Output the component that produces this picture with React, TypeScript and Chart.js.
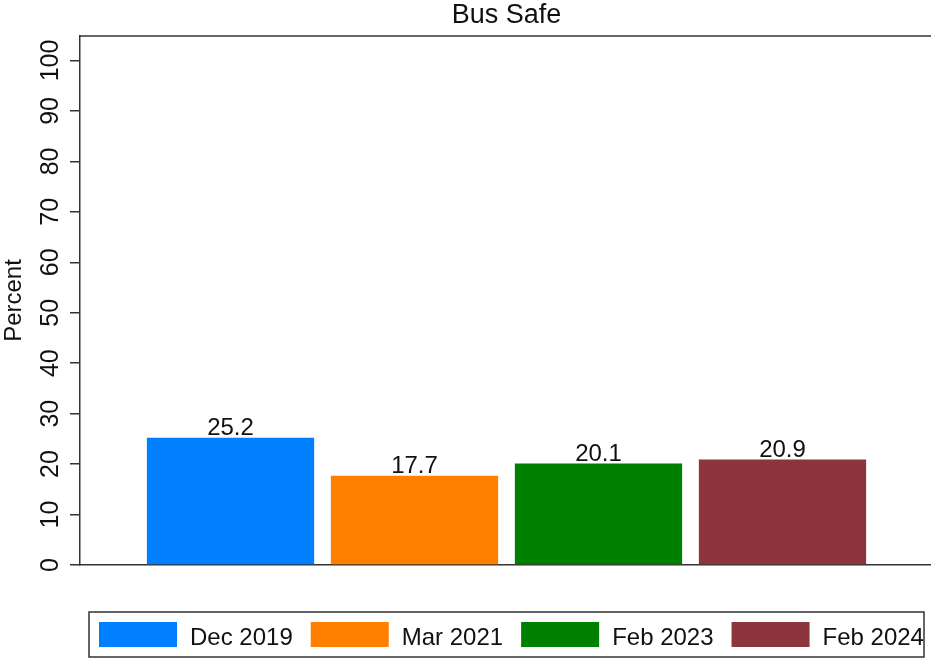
import React, { useEffect, useRef } from 'react';
import { Chart, registerables } from 'chart.js';

Chart.register(...registerables);

const chartTitle = 'Bus Safe';
const yAxisTitle = 'Percent';
const categories = [''];
const seriesLabels = ['Dec 2019', 'Mar 2021', 'Feb 2023', 'Feb 2024'];
const seriesValues = [25.2, 17.7, 20.1, 20.9];
const seriesColors = ['#0080FF', '#FF8000', '#008000', '#8D353C'];
const yTickValues = [0, 10, 20, 30, 40, 50, 60, 70, 80, 90, 100];
const yMin = 0;
const yMax = 104.85;

const FONT = '"Liberation Sans", Arial, Helvetica, sans-serif';
const INK = '#111111';
const LINE = '#333333';

const framePlugin = {
  id: 'frame',
  afterDraw(chart: any) {
    const { ctx, chartArea } = chart;
    ctx.save();
    ctx.strokeStyle = LINE;
    ctx.lineWidth = 1.5;
    ctx.beginPath();
    ctx.moveTo(chartArea.left, chartArea.top);
    ctx.lineTo(chartArea.right, chartArea.top);
    ctx.stroke();
    ctx.restore();
  },
};

const titlePlugin = {
  id: 'plotTitle',
  afterDraw(chart: any) {
    const { ctx, chartArea } = chart;
    ctx.save();
    ctx.font = `27px ${FONT}`;
    ctx.fillStyle = INK;
    ctx.textAlign = 'center';
    ctx.textBaseline = 'middle';
    ctx.fillText(chartTitle, (chartArea.left + chartArea.right) / 2, 16);
    ctx.restore();
  },
};

const valueLabelPlugin = {
  id: 'valueLabels',
  afterDatasetsDraw(chart: any) {
    const { ctx } = chart;
    ctx.save();
    ctx.font = `24px ${FONT}`;
    ctx.fillStyle = INK;
    ctx.textAlign = 'center';
    ctx.textBaseline = 'alphabetic';
    chart.data.datasets.forEach((ds: any, i: number) => {
      const meta = chart.getDatasetMeta(i);
      meta.data.forEach((bar: any, j: number) => {
        const v = ds.data[j] as number;
        ctx.fillText(v.toFixed(1), bar.x, bar.y - 3);
      });
    });
    ctx.restore();
  },
};

const legendPlugin = {
  id: 'boxLegend',
  afterDraw(chart: any) {
    const { ctx, chartArea } = chart;
    const boxLeft = chartArea.left + 9;
    const boxTop = chartArea.bottom + 47;
    const boxRight = 924;
    const boxBottom = boxTop + 45;
    const swW = 78;
    const swH = 25;
    const textGap = 13;
    const itemGap = 18;
    ctx.save();
    ctx.font = `24px ${FONT}`;
    ctx.textAlign = 'left';
    ctx.textBaseline = 'alphabetic';
    let x = boxLeft + 10;
    chart.data.datasets.forEach((ds: any) => {
      ctx.fillStyle = ds.backgroundColor;
      ctx.fillRect(x, boxTop + 10, swW, swH);
      x += swW + textGap;
      ctx.fillStyle = INK;
      ctx.fillText(ds.label, x, boxTop + 33);
      x += ctx.measureText(ds.label).width + itemGap;
    });
    ctx.strokeStyle = LINE;
    ctx.lineWidth = 1.5;
    ctx.strokeRect(boxLeft, boxTop, boxRight - boxLeft, boxBottom - boxTop);
    ctx.restore();
  },
};

export default function App() {
  const canvasRef = useRef<HTMLCanvasElement | null>(null);

  useEffect(() => {
    const canvas = canvasRef.current;
    if (!canvas) return;
    const chart = new Chart(canvas, {
      type: 'bar',
      data: {
        labels: categories,
        datasets: seriesLabels.map((label, i) => ({
          label,
          data: [seriesValues[i]],
          backgroundColor: seriesColors[i],
          borderWidth: 0,
          categoryPercentage: 0.8628,
          barPercentage: 0.9092,
        })),
      },
      options: {
        responsive: false,
        animation: false,
        devicePixelRatio: 1,
        layout: { padding: { top: 36, left: 0, right: 0, bottom: 93 } },
        plugins: {
          legend: { display: false },
          tooltip: { enabled: false },
          title: { display: false },
        },
        scales: {
          x: {
            display: true,
            grid: { display: false },
            ticks: { display: false },
            border: { display: true, color: LINE, width: 1.5 },
            afterFit: (s: any) => {
              s.height = 0;
            },
          },
          y: {
            min: yMin,
            max: yMax,
            afterBuildTicks: (s: any) => {
              s.ticks = yTickValues.map((v) => ({ value: v }));
            },
            ticks: {
              minRotation: 90,
              maxRotation: 90,
              crossAlign: 'center',
              padding: -2,
              color: INK,
              font: { family: FONT, size: 25 },
              callback: (v: any) => String(v),
            },
            grid: {
              drawOnChartArea: false,
              drawTicks: true,
              tickLength: 10,
              color: LINE,
              lineWidth: 1.5,
            },
            border: { display: true, color: LINE, width: 1.5 },
            title: {
              display: true,
              text: yAxisTitle,
              color: INK,
              font: { family: FONT, size: 24 },
              padding: 0,
            },
            afterFit: (s: any) => {
              s.width = 80;
            },
          },
        },
      },
      plugins: [framePlugin, titlePlugin, valueLabelPlugin, legendPlugin],
    } as any);
    return () => chart.destroy();
  }, []);

  return (
    <div style={{ position: 'fixed', left: 0, top: 0, width: 931, height: 658, overflow: 'hidden', background: '#fff' }}>
      <canvas ref={canvasRef} width={933} height={658} style={{ display: 'block' }} />
    </div>
  );
}
